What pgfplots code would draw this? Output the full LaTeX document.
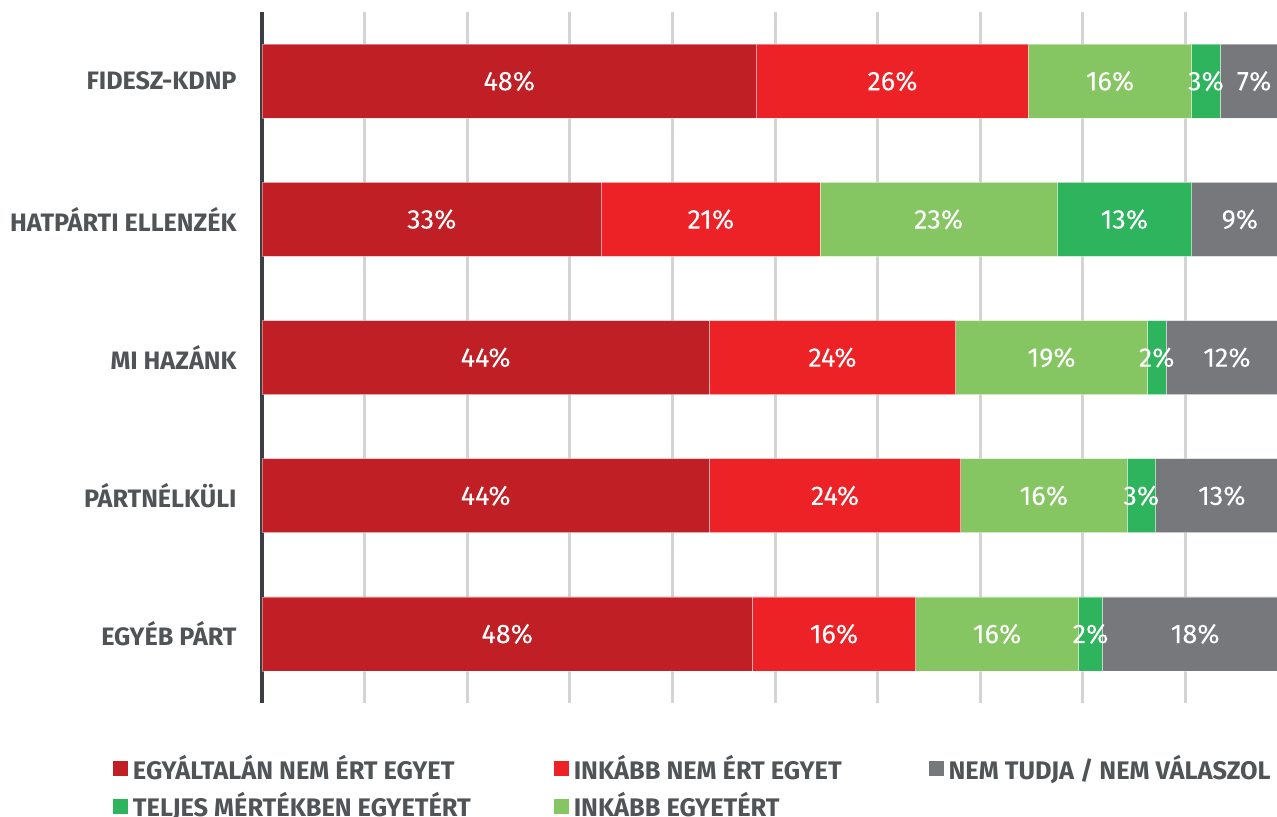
\documentclass[border=0pt]{standalone}
\usepackage{pgfplots}
\pgfplotsset{compat=1.18}
\usepackage{pgfplotstable}
\usepackage{fontspec}
\setmainfont{Fira Sans}
\newfontfamily\medfont{Fira Sans}[FakeBold=0.5]
\definecolor{c1}{HTML}{C01F26}
\definecolor{c2}{HTML}{EC2227}
\definecolor{c3}{HTML}{86C662}
\definecolor{c4}{HTML}{2DB45C}
\definecolor{c5}{HTML}{76787B}
\definecolor{txt}{HTML}{505456}
\definecolor{grd}{HTML}{D4D4D4}
\definecolor{axl}{HTML}{3B3E42}
\pgfplotstableread{
cat a b c d e la lb lc ld le
0 48.2 26.5 15.9 2.8 6.6 48 26 16 3 7
1 33.1 21.3 23.1 13.1 9.4 33 21 23 13 9
2 43.6 24.0 18.7 1.8 11.9 44 24 19 2 12
3 43.6 24.5 16.2 2.8 12.9 44 24 16 3 13
4 47.8 15.9 15.9 2.3 18.1 48 16 16 2 18
}\data
\begin{document}
\begin{tikzpicture}
\useasboundingbox (0,0) rectangle (638.5pt,-408pt);
\begin{axis}[
  at={(131pt,-351.5pt)}, anchor=south west,
  scale only axis, width=515.565pt, height=345.5pt,
  xbar stacked, bar width=37pt,
  xmin=0, xmax=100.5, ymin=-0.5, ymax=4.5, y dir=reverse,
  xtick={10,20,...,90}, xticklabels={},
  xmajorgrids, major grid style={grd, line width=1.5pt},
  ytick={0,...,4},
  yticklabels={FIDESZ-KDNP, HATPÁRTI ELLENZÉK, MI HAZÁNK, PÁRTNÉLKÜLI, EGYÉB PÁRT},
  major tick length=0pt,
  axis lines*=left,
  x axis line style={draw=none},
  y axis line style={axl, line width=2pt, -},
  yticklabel style={font=\bfseries\fontsize{12.6}{14}\selectfont, text=txt, inner sep=0pt, xshift=-12.5pt},
  nodes near coords={\pgfplotspointmeta\%},
  point meta=explicit symbolic,
  every node near coord/.append style={font=\medfont\fontsize{13.5}{15}\selectfont, text=white, anchor=center, inner sep=0pt},
  legend columns=3,
  legend cell align=left,
  legend style={at={(-0.1447,-0.075)}, anchor=north west, draw=none, fill=none, inner sep=0pt, nodes={inner sep=0pt}, column sep=0pt, row sep=5pt, font=\bfseries\fontsize{12.7}{14}\selectfont, text=txt},
]
\addlegendimage{legend image code/.code={\fill[c1] (0pt,-3.5pt) rectangle (7pt,3.5pt);}}
\addlegendentry{\makebox[213pt][l]{\hspace{2.5pt}EGYÁLTALÁN NEM ÉRT EGYET}}
\addlegendimage{legend image code/.code={\fill[c2] (0pt,-3.5pt) rectangle (7pt,3.5pt);}}
\addlegendentry{\makebox[180pt][l]{\hspace{2.5pt}INKÁBB NEM ÉRT EGYET}}
\addlegendimage{legend image code/.code={\fill[c5] (0pt,-3.5pt) rectangle (7pt,3.5pt);}}
\addlegendentry{\hspace{2.5pt}NEM TUDJA / NEM VÁLASZOL}
\addlegendimage{legend image code/.code={\fill[c4] (0pt,-3.5pt) rectangle (7pt,3.5pt);}}
\addlegendentry{\makebox[213pt][l]{\hspace{2.5pt}TELJES MÉRTÉKBEN EGYETÉRT}}
\addlegendimage{legend image code/.code={\fill[c3] (0pt,-3.5pt) rectangle (7pt,3.5pt);}}
\addlegendentry{\makebox[180pt][l]{\hspace{2.5pt}INKÁBB EGYETÉRT}}
\addplot[forget plot, fill=c1, draw=white, draw opacity=0.4, line width=0.4pt] table[x=a, y=cat, meta=la] {\data};
\addplot[forget plot, fill=c2, draw=white, draw opacity=0.4, line width=0.4pt] table[x=b, y=cat, meta=lb] {\data};
\addplot[forget plot, fill=c3, draw=white, draw opacity=0.4, line width=0.4pt] table[x=c, y=cat, meta=lc] {\data};
\addplot[forget plot, fill=c4, draw=white, draw opacity=0.4, line width=0.4pt] table[x=d, y=cat, meta=ld] {\data};
\addplot[forget plot, fill=c5, draw=white, draw opacity=0.4, line width=0.4pt] table[x=e, y=cat, meta=le] {\data};
\end{axis}
\end{tikzpicture}
\end{document}
